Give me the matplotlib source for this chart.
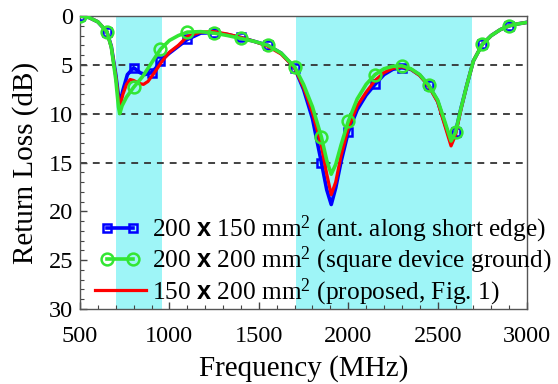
import matplotlib
matplotlib.use('Agg')
import matplotlib.pyplot as plt
import matplotlib.ticker as mticker
from matplotlib.legend_handler import HandlerLine2D

plt.rcParams['font.family'] = 'serif'
plt.rcParams['font.serif'] = ['Liberation Serif', 'DejaVu Serif']
plt.rcParams['mathtext.fontset'] = 'custom'
plt.rcParams['mathtext.rm'] = 'Liberation Serif'
plt.rcParams['mathtext.bf'] = 'Liberation Sans:bold'
plt.rcParams['mathtext.default'] = 'regular'

# 200 x 150 mm^2 (antenna along short edge)
freq_short = [500, 550, 600, 650, 675, 700, 715, 725, 740, 765, 800, 836, 862, 900, 925, 950,
              1000, 1050, 1100, 1175, 1250, 1325, 1400, 1475, 1550, 1625, 1700, 1750, 1800,
              1850, 1880, 1905, 1930, 1960, 2000, 2050, 2100, 2150, 2200, 2250, 2300, 2350,
              2400, 2450, 2500, 2540, 2575, 2600, 2630, 2663, 2700, 2750, 2800, 2850, 2900,
              2950, 3000]
rl_short = [0.0, 0.15, 0.6, 1.6, 3.1, 6.0, 8.2, 8.8, 7.6, 6.0, 5.3, 5.8, 6.0, 5.8, 5.3, 4.6,
            3.8, 3.1, 2.4, 1.75, 1.7, 1.9, 2.2, 2.6, 3.0, 3.8, 5.3, 7.5, 10.5,
            15.0, 17.8, 19.3, 17.6, 14.9, 11.9, 9.6, 8.1, 7.0, 6.0, 5.45, 5.3, 5.45,
            6.05, 7.1, 8.7, 11.0, 12.9, 11.9, 9.5, 7.1, 4.6, 2.9, 2.0, 1.4, 1.0,
            0.8, 0.65]
mk_short = [500, 650, 800, 900, 950, 1100, 1250, 1400, 1550, 1700, 1850, 2000, 2150,
            2300, 2450, 2600, 2750, 2900]

# 200 x 200 mm^2 (square device ground)
freq_square = [500, 550, 600, 650, 675, 700, 715, 722, 735, 760, 800, 850, 900, 950,
               1000, 1050, 1100, 1175, 1250, 1325, 1400, 1475, 1550, 1625, 1700, 1750, 1800,
               1850, 1880, 1905, 1930, 1960, 2000, 2050, 2100, 2150, 2200, 2250, 2300, 2350,
               2400, 2450, 2500, 2540, 2575, 2600, 2630, 2663, 2700, 2750, 2800, 2850, 2900,
               2950, 3000]
rl_square = [0.0, 0.15, 0.6, 1.6, 3.2, 6.5, 9.3, 10.0, 9.2, 8.3, 7.3, 6.2, 4.8, 3.4,
             2.5, 2.0, 1.65, 1.6, 1.75, 2.0, 2.3, 2.6, 3.0, 3.8, 5.2, 7.0, 9.3,
             12.4, 14.8, 16.2, 15.2, 13.2, 10.8, 8.5, 7.0, 6.0, 5.4, 5.15, 5.1, 5.4,
             6.0, 7.1, 8.6, 10.8, 12.8, 11.9, 9.5, 7.1, 4.6, 2.9, 2.0, 1.4, 1.0,
             0.8, 0.65]
mk_square = [500, 650, 800, 950, 1100, 1250, 1400, 1550, 1700, 1850, 2000, 2150,
             2300, 2450, 2600, 2750, 2900]

# 150 x 200 mm^2 (proposed)
freq_prop = [500, 550, 600, 650, 675, 700, 715, 725, 740, 760, 780, 800, 830, 855, 880, 920,
             960, 1000, 1050, 1100, 1175, 1250, 1325, 1400, 1475, 1550, 1625, 1700, 1750,
             1800, 1850, 1880, 1905, 1930, 1960, 2000, 2050, 2100, 2150, 2200, 2250, 2300,
             2350, 2400, 2450, 2500, 2540, 2575, 2600, 2630, 2663, 2700, 2750, 2800, 2850,
             2900, 2950, 3000]
rl_prop = [0.0, 0.15, 0.6, 1.6, 3.2, 6.2, 8.5, 9.1, 8.0, 7.0, 6.5, 6.6, 6.9, 7.0, 6.7, 5.7,
           4.6, 3.7, 3.0, 2.1, 1.65, 1.6, 1.85, 2.2, 2.6, 3.1, 3.9, 5.3, 7.3,
           9.9, 13.3, 16.2, 18.3, 17.0, 14.3, 11.5, 9.2, 7.8, 6.6, 5.8, 5.35, 5.2,
           5.45, 6.1, 7.2, 8.8, 11.2, 13.3, 12.2, 9.6, 7.1, 4.6, 2.9, 2.0, 1.4,
           1.0, 0.8, 0.65]

bands = [(700, 960), (1710, 2690)]
dashed_levels = [5, 10, 15]

lab_short = r'200 $\mathbf{x}$ 150 mm$^2$ (ant. along short edge)'
lab_square = r'200 $\mathbf{x}$ 200 mm$^2$ (square device ground)'
lab_prop = r'150 $\mathbf{x}$ 200 mm$^2$ (proposed, Fig. 1)'

fig = plt.figure(figsize=(5.58, 3.84), dpi=100)
ax = fig.add_axes([0.1434, 0.1953, 0.8011, 0.763])

for b in bands:
    ax.axvspan(b[0], b[1], color='#9ef5f7', lw=0, zorder=0)
for lv in dashed_levels:
    ax.axhline(lv, color='#333333', lw=1.3, dashes=(3.8, 3.3), zorder=1)

l1, = ax.plot(freq_short, rl_short, color='#0000ff', lw=2.6, marker='s', ms=6,
              mfc='none', mew=1.8, markevery=[freq_short.index(m) for m in mk_short],
              zorder=3, label=lab_short)
l3, = ax.plot(freq_prop, rl_prop, color='#ff0000', lw=2.3, zorder=4, label=lab_prop)
l2, = ax.plot(freq_square, rl_square, color='#33e633', lw=2.6, marker='o', ms=8.5,
              mfc='none', mew=1.8, markevery=[freq_square.index(m) for m in mk_square],
              zorder=5, label=lab_square)

ax.set_xlim(500, 3000)
ax.set_ylim(30, 0)
ax.xaxis.set_major_locator(mticker.MultipleLocator(500))
ax.xaxis.set_minor_locator(mticker.MultipleLocator(100))
ax.yaxis.set_major_locator(mticker.MultipleLocator(5))
ax.yaxis.set_minor_locator(mticker.MultipleLocator(1))
ax.tick_params(which='both', direction='in', top=False, right=False, labelsize=17.5,
               color='#444444')
ax.tick_params(which='major', length=5, width=1)
ax.tick_params(which='minor', length=3, width=0.8)
ax.tick_params(axis='x', pad=12)
ax.tick_params(axis='y', pad=5)
for lbl in ax.get_xticklabels() + ax.get_yticklabels():
    lbl.set_fontfamily('Liberation Serif')
for sp in ax.spines.values():
    sp.set_color('#555555')
    sp.set_linewidth(1.0)

ax.set_xlabel('Frequency (MHz)', fontsize=21, labelpad=6)
ax.set_ylabel('Return Loss (dB)', fontsize=21, labelpad=7)

hm = {l1: HandlerLine2D(numpoints=2, marker_pad=0.5),
      l2: HandlerLine2D(numpoints=2, marker_pad=0.5)}
ax.legend(handles=[l1, l2, l3], loc='upper left', bbox_to_anchor=(0.033, 0.325),
          frameon=False, fontsize=18.3, handlelength=2.0, handletextpad=0.25,
          labelspacing=0.0, borderaxespad=0, borderpad=0, handler_map=hm)

fig.savefig('out.png', dpi=100)
